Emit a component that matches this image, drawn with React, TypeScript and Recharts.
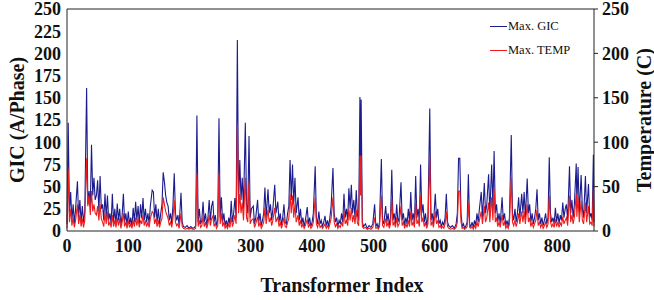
import { LineChart, Line, XAxis, YAxis, ReferenceLine } from "recharts";

// transformer index where each reading sits (peaks + valleys)
const transformerIdx = [
  0, 2, 4, 6, 8, 10, 12, 14, 17, 19,
  21, 23, 25, 27, 29, 32, 34, 36, 38, 40,
  42, 44, 46, 48, 50, 52, 54, 56, 58, 60,
  62, 64, 66, 68, 70, 72, 74, 76, 78, 80,
  82, 84, 86, 88, 90, 92, 94, 96, 98, 100,
  102, 104, 106, 108, 110, 112, 114, 116, 118, 120,
  122, 124, 126, 128, 130, 132, 134, 136, 139, 141,
  143, 145, 147, 149, 151, 153, 155, 157, 159, 161,
  163, 165, 167, 169, 171, 173, 175, 177, 179, 181,
  183, 186, 188, 190, 193, 196, 199, 202, 205, 208,
  210, 212, 214, 216, 218, 220, 222, 224, 226, 228,
  230, 232, 234, 236, 238, 240, 242, 244, 246, 248,
  250, 252, 254, 256, 258, 260, 262, 264, 266, 268,
  270, 272, 274, 276, 278, 280, 282, 284, 286, 288,
  291, 293, 295, 297, 299, 301, 304, 306, 308, 311,
  313, 315, 317, 319, 321, 323, 325, 328, 330, 332,
  334, 336, 339, 341, 344, 346, 348, 350, 352, 354,
  356, 358, 360, 362, 364, 366, 368, 370, 372, 374,
  377, 379, 381, 383, 385, 387, 389, 392, 394, 396,
  398, 400, 402, 405, 407, 409, 411, 413, 415, 417,
  419, 421, 423, 425, 427, 429, 431, 434, 436, 438,
  440, 442, 444, 446, 448, 450, 452, 454, 456, 458,
  460, 462, 464, 466, 468, 470, 472, 474, 476, 478,
  479, 480, 482, 484, 487, 490, 493, 496, 499, 502,
  504, 506, 508, 510, 513, 515, 517, 520, 522, 524,
  526, 528, 530, 532, 534, 536, 538, 540, 542, 545,
  547, 549, 551, 553, 555, 557, 559, 561, 563, 565,
  567, 569, 571, 573, 575, 577, 579, 581, 583, 585,
  587, 589, 592, 594, 596, 598, 601, 603, 605, 607,
  609, 611, 613, 615, 617, 619, 621, 623, 626, 629,
  632, 635, 637, 639, 641, 643, 645, 647, 649, 651,
  653, 655, 657, 659, 661, 663, 665, 667, 669, 671,
  673, 676, 678, 681, 683, 685, 688, 690, 693, 695,
  697, 699, 701, 703, 705, 707, 710, 712, 714, 716,
  718, 720, 722, 725, 727, 729, 731, 733, 735, 737,
  739, 742, 744, 746, 748, 751, 753, 755, 757, 759,
  761, 763, 765, 767, 769, 771, 773, 775, 777, 779,
  781, 783, 785, 787, 789, 791, 793, 795, 797, 799,
  801, 803, 805, 807, 809, 811, 813, 815, 817, 820,
  822, 824, 826, 828, 831, 832, 834, 836, 839, 841,
  843, 846, 848, 851, 853, 855, 857, 859, 860,
];

// Max. GIC (A/Phase)
const maxGic = [
  8, 122, 20, 44, 12, 30, 8, 25, 56, 15,
  35, 10, 28, 10, 22, 161, 30, 45, 28, 97,
  40, 60, 35, 40, 57, 22, 62, 25, 30, 12,
  42, 15, 40, 12, 20, 8, 42, 10, 25, 8,
  31, 12, 25, 6, 18, 42, 10, 20, 6, 22,
  8, 15, 5, 26, 10, 33, 12, 28, 8, 30,
  14, 37, 12, 25, 10, 20, 8, 28, 46, 44,
  15, 30, 10, 25, 8, 20, 30, 66, 55, 40,
  32, 28, 12, 20, 8, 30, 65, 20, 12, 18,
  6, 43, 10, 5, 4, 6, 3, 5, 3, 4,
  6, 130, 10, 25, 8, 12, 33, 10, 20, 6,
  15, 35, 12, 28, 34, 10, 18, 6, 12, 127,
  15, 38, 10, 20, 6, 12, 5, 15, 8, 34,
  10, 20, 37, 15, 215, 30, 80, 35, 60, 25,
  122, 30, 20, 107, 15, 25, 28, 8, 15, 35,
  10, 20, 6, 12, 20, 49, 15, 47, 20, 30,
  12, 25, 52, 20, 33, 10, 20, 6, 15, 30,
  10, 8, 20, 28, 80, 35, 75, 30, 60, 20,
  38, 12, 25, 8, 15, 5, 12, 27, 8, 15,
  5, 10, 20, 73, 15, 8, 22, 8, 12, 5,
  10, 17, 6, 12, 5, 15, 28, 71, 20, 10,
  15, 5, 12, 8, 20, 10, 42, 15, 25, 12,
  48, 25, 52, 20, 35, 15, 46, 18, 12, 151,
  60, 148, 10, 5, 8, 3, 6, 4, 8, 30,
  5, 8, 3, 10, 81, 12, 8, 28, 10, 20,
  6, 15, 69, 12, 20, 8, 30, 10, 15, 55,
  12, 20, 6, 15, 8, 25, 10, 44, 12, 20,
  8, 62, 15, 25, 10, 75, 20, 30, 10, 20,
  6, 15, 138, 12, 20, 8, 42, 15, 25, 8,
  12, 5, 10, 6, 15, 42, 10, 6, 4, 6,
  3, 8, 20, 82, 82, 20, 5, 8, 3, 6,
  10, 64, 8, 5, 10, 4, 12, 6, 20, 10,
  25, 44, 15, 54, 20, 30, 64, 20, 75, 25,
  90, 20, 30, 10, 20, 8, 38, 12, 20, 6,
  12, 5, 15, 108, 20, 12, 25, 10, 20, 38,
  15, 42, 20, 44, 15, 59, 20, 30, 10, 20,
  8, 15, 25, 47, 12, 20, 8, 15, 6, 12,
  20, 8, 15, 83, 20, 10, 15, 8, 26, 10,
  20, 8, 18, 12, 32, 15, 25, 30, 12, 73,
  20, 35, 15, 30, 76, 30, 72, 20, 63, 25,
  15, 62, 20, 53, 15, 20, 12, 86, 10,
];

// Max. TEMP (C)
const maxTemp = [
  3, 70, 10, 25, 6, 15, 4, 12, 30, 8,
  18, 5, 14, 4, 12, 82, 28, 40, 18, 45,
  22, 30, 20, 18, 28, 12, 30, 14, 10, 5,
  20, 8, 22, 6, 10, 4, 18, 5, 12, 4,
  15, 6, 14, 3, 10, 20, 5, 10, 3, 12,
  4, 8, 3, 12, 5, 15, 6, 14, 4, 12,
  8, 18, 6, 12, 5, 10, 4, 14, 22, 20,
  8, 14, 5, 12, 4, 10, 14, 38, 30, 22,
  18, 14, 6, 10, 4, 15, 35, 10, 6, 8,
  3, 20, 5, 3, 2, 3, 2, 3, 2, 2,
  3, 65, 5, 12, 4, 6, 16, 5, 10, 3,
  8, 18, 6, 14, 17, 5, 9, 3, 6, 65,
  8, 20, 5, 10, 3, 6, 3, 8, 4, 16,
  5, 10, 18, 8, 120, 20, 42, 20, 32, 12,
  60, 15, 10, 55, 8, 12, 14, 4, 8, 16,
  5, 10, 3, 6, 10, 26, 8, 24, 10, 15,
  6, 12, 26, 10, 16, 5, 10, 3, 8, 15,
  5, 4, 10, 14, 42, 20, 40, 15, 30, 10,
  18, 6, 12, 4, 8, 3, 6, 13, 4, 8,
  3, 5, 10, 38, 8, 4, 11, 4, 6, 3,
  5, 8, 3, 6, 3, 8, 14, 38, 10, 5,
  8, 3, 6, 4, 10, 5, 22, 8, 12, 6,
  25, 12, 26, 10, 18, 8, 24, 9, 6, 85,
  40, 85, 5, 3, 4, 2, 3, 2, 4, 15,
  3, 4, 2, 5, 40, 6, 4, 14, 5, 10,
  3, 8, 36, 6, 10, 4, 15, 5, 8, 28,
  6, 10, 3, 8, 4, 12, 5, 22, 6, 10,
  4, 32, 8, 12, 5, 40, 10, 15, 5, 10,
  3, 8, 83, 6, 10, 4, 22, 8, 12, 4,
  6, 3, 5, 3, 8, 22, 5, 3, 2, 3,
  2, 4, 10, 45, 45, 10, 3, 4, 2, 3,
  5, 32, 4, 3, 5, 2, 6, 3, 10, 5,
  12, 22, 8, 28, 10, 15, 32, 10, 38, 12,
  47, 10, 15, 5, 10, 4, 18, 6, 10, 3,
  6, 3, 8, 60, 10, 6, 12, 5, 10, 20,
  8, 22, 10, 22, 8, 30, 10, 15, 5, 10,
  4, 8, 12, 24, 6, 10, 4, 8, 3, 6,
  10, 4, 8, 40, 10, 5, 8, 4, 13, 5,
  10, 4, 9, 6, 16, 8, 12, 15, 6, 40,
  10, 18, 8, 16, 42, 16, 38, 10, 34, 12,
  8, 32, 10, 28, 8, 10, 6, 48, 5,
];

const gicTicks = [0, 25, 50, 75, 100, 125, 150, 175, 200, 225, 250];
const tempTicks = [0, 50, 100, 150, 200, 250];
const indexTicks = [0, 100, 200, 300, 400, 500, 600, 700, 800];

const GIC_COLOR = "#1c1c8e";
const TEMP_COLOR = "#ee1c1c";
const FONT = '"Liberation Serif", "Times New Roman", serif';

const data = transformerIdx.map((x, i) => ({ idx: x, gic: maxGic[i], temp: maxTemp[i] }));

const tickStyle = { fontSize: 18, fontWeight: 700, fill: "#111", fontFamily: FONT };

function LegendBox() {
  const row = (color: string, text: string, top: number) => (
    <div style={{ position: "absolute", left: 490, top: top - 9, display: "flex", alignItems: "center", whiteSpace: "nowrap" }}>
      <span style={{ display: "inline-block", width: 17, height: 0, borderTop: `1.5px solid ${color}` }} />
      <span style={{ fontFamily: FONT, fontSize: 12.5, color: "#111", marginLeft: 1 }}>{text}</span>
    </div>
  );
  return (
    <>
      {row(GIC_COLOR, "Max. GIC", 28)}
      {row(TEMP_COLOR, "Max. TEMP", 52)}
    </>
  );
}

export default function App() {
  return (
    <div style={{ position: "absolute", left: 0, top: 0, width: 654, height: 300, background: "#fff", overflow: "hidden" }}>
      <LineChart width={654} height={300} data={data} margin={{ top: 9, right: 0, bottom: 0, left: 0 }}>
        <XAxis
          dataKey="idx"
          type="number"
          domain={[0, 860]}
          ticks={indexTicks}
          height={69}
          axisLine={{ stroke: "#222" }}
          tickLine={false}
          tickSize={6}
          tickMargin={2}
          tick={tickStyle}
          interval={0}
        />
        <YAxis
          yAxisId="left"
          domain={[0, 250]}
          ticks={gicTicks}
          width={67}
          axisLine={{ stroke: "#222" }}
          tickLine={false}
          tickSize={4}
          tickMargin={2}
          tick={tickStyle}
          interval={0}
        />
        <YAxis
          yAxisId="right"
          orientation="right"
          domain={[0, 250]}
          ticks={tempTicks}
          width={60}
          axisLine={{ stroke: "#222" }}
          tickLine={{ stroke: "#222" }}
          tickSize={4}
          tickMargin={4}
          tick={tickStyle}
          interval={0}
        />
        {/* top frame of the box */}
        <ReferenceLine yAxisId="left" y={250} stroke="#222" ifOverflow="visible" />
        <Line yAxisId="left" type="linear" dataKey="gic" stroke={GIC_COLOR} strokeWidth={1.1} dot={false} isAnimationActive={false} />
        <Line yAxisId="right" type="linear" dataKey="temp" stroke={TEMP_COLOR} strokeWidth={1.1} dot={false} isAnimationActive={false} />
      </LineChart>
      <LegendBox />
      <div style={{ position: "absolute", left: 17, top: 120, transform: "translate(-50%, -50%) rotate(-90deg)", fontFamily: FONT, fontWeight: 700, fontSize: 20, color: "#111", whiteSpace: "nowrap" }}>
        GIC (A/Phase)
      </div>
      <div style={{ position: "absolute", left: 644, top: 120, transform: "translate(-50%, -50%) rotate(-90deg)", fontFamily: FONT, fontWeight: 700, fontSize: 20, color: "#111", whiteSpace: "nowrap" }}>
        Temperature (C)
      </div>
      <div style={{ position: "absolute", left: 342, top: 285, transform: "translate(-50%, -50%)", fontFamily: FONT, fontWeight: 700, fontSize: 20, color: "#111", whiteSpace: "nowrap" }}>
        Transformer Index
      </div>
    </div>
  );
}
